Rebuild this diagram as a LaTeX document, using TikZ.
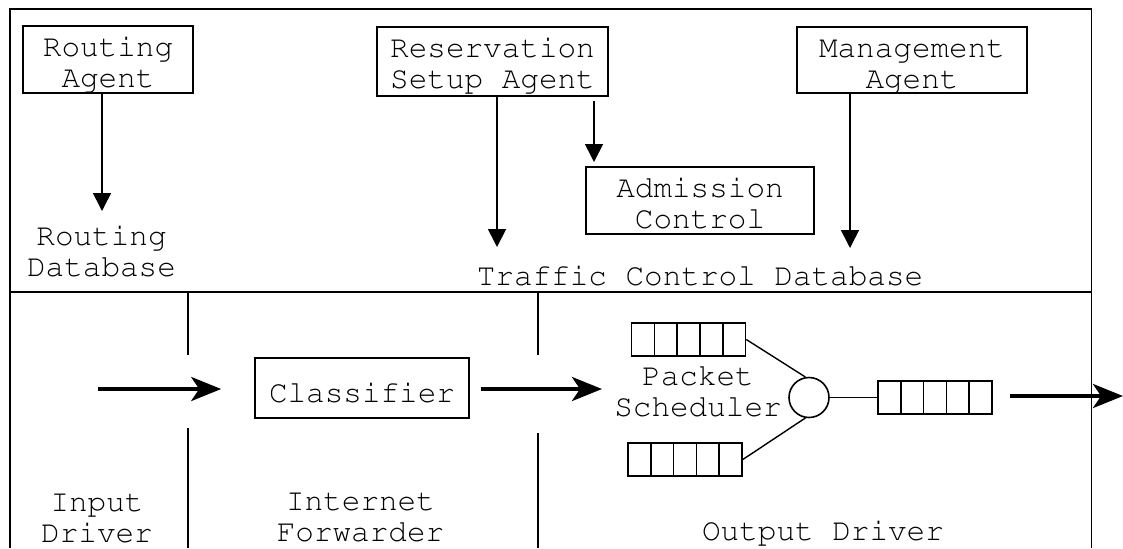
\documentclass[tikz,border=0pt]{standalone}
\usepackage[T1]{fontenc}
\usetikzlibrary{arrows.meta,calc}
\newcommand\mlines[1]{\begin{tabular}[t]{@{}c@{}}#1\end{tabular}}
\begin{document}
\begin{tikzpicture}[x=0.5pt,y=-0.5pt,
  every node/.style={font=\fontfamily{pcr}\fontsize{15.5}{15.75}\selectfont, inner sep=0pt},
  box/.style={draw, line width=0.8pt, text height=15pt},
  lbl/.style={anchor=base, text height=10pt},
  queue/.style={draw, line width=0.8pt, minimum width=57pt, minimum height=16.5pt,
    path picture={\foreach \k in {1,2,3,4}{\draw[line width=0.8pt]
      ($(path picture bounding box.south west)!\k/5!(path picture bounding box.south east)$) --
      ($(path picture bounding box.north west)!\k/5!(path picture bounding box.north east)$);}}},
  arr/.style={line width=0.8pt, -{Triangle[width=9pt,length=9pt]}},
  bigarr/.style={line width=2pt, -{Stealth[length=15pt,width=12pt,inset=4pt]}},
  frame/.style={line width=0.9pt},
  link/.style={line width=0.7pt}
]
\useasboundingbox (0,0) rectangle (1123,548);
% frame and dividers
\draw[frame] (10,548) -- (10,9) -- (1091.5,9) -- (1091.5,548);
\draw[frame] (10,292) -- (1091.5,292);
\draw[frame] (188,292) -- (188,355);
\draw[frame] (188,428) -- (188,548);
\draw[frame] (538,292) -- (538,355);
\draw[frame] (538,433) -- (538,548);

% upper half
\node[box, minimum width=85pt, text depth=18.5pt] (ra) at (108,59.5) {\mlines{Routing\\Agent}};
\node[box, minimum width=115.5pt, text depth=19.5pt] (rsa) at (492.5,61.5) {\mlines{Reservation\\Setup Agent}};
\node[box, minimum width=114pt, text depth=18.5pt] (ac) at (700,200.5) {\mlines{Admission\\Control}};
\node[box, minimum width=115pt, text depth=18pt] (ma) at (912,60) {\mlines{Management\\Agent}};
\node[lbl] (rdb) at (101.5,245) {\mlines{Routing\\Database}};
\node[lbl] (tcd) at (700,285) {Traffic Control Database};

\coordinate (rdbin) at (102,211);
\coordinate (tcdin1) at (497,247);
\coordinate (acin) at (594,162);
\coordinate (tcdin2) at (850,248);
\draw[arr] (ra.south -| rdbin) -- (rdbin);
\draw[arr] (rsa.south -| tcdin1) -- (tcdin1);
\draw[arr] ([yshift=-2pt]rsa.south -| acin) -- (acin);
\draw[arr] (ma.south -| tcdin2) -- (tcdin2);

% lower half
\node[draw, line width=0.8pt, minimum width=107pt, text height=22pt, text depth=8pt] (cl) at (362,388) {Classifier};
\node[queue] (q1) at (688.5,339.5) {};
\node[queue] (q2) at (685,459.5) {};
\node[queue] (q3) at (935,397.5) {};
\node[draw, circle, line width=0.8pt, minimum size=20pt] (sch) at (809,397.5) {};
\node[lbl] (ps) at (698,385) {\mlines{Packet\\Scheduler}};
\node[lbl] (idr) at (97,511) {\mlines{Input\\Driver}};
\node[lbl] (ifw) at (360.5,510) {\mlines{Internet\\Forwarder}};
\node[lbl] (odr) at (823,540) {Output Driver};

\draw[link] (q1.east) -- (sch.100);
\draw[link] (q2.east) -- (sch.260);
\draw[link] (sch.east) -- (q3.west);

\coordinate (in0) at (98,389);
\coordinate (psin) at (602,389);
\coordinate (out) at (1123,396);
\draw[bigarr, shorten >=16.5pt] (in0) -- (in0 -| cl.west);
\draw[bigarr] ([xshift=5.5pt]cl.east |- psin) -- (psin);
\draw[bigarr] ([xshift=8.5pt]q3.east |- out) -- (out);
\end{tikzpicture}
\end{document}
